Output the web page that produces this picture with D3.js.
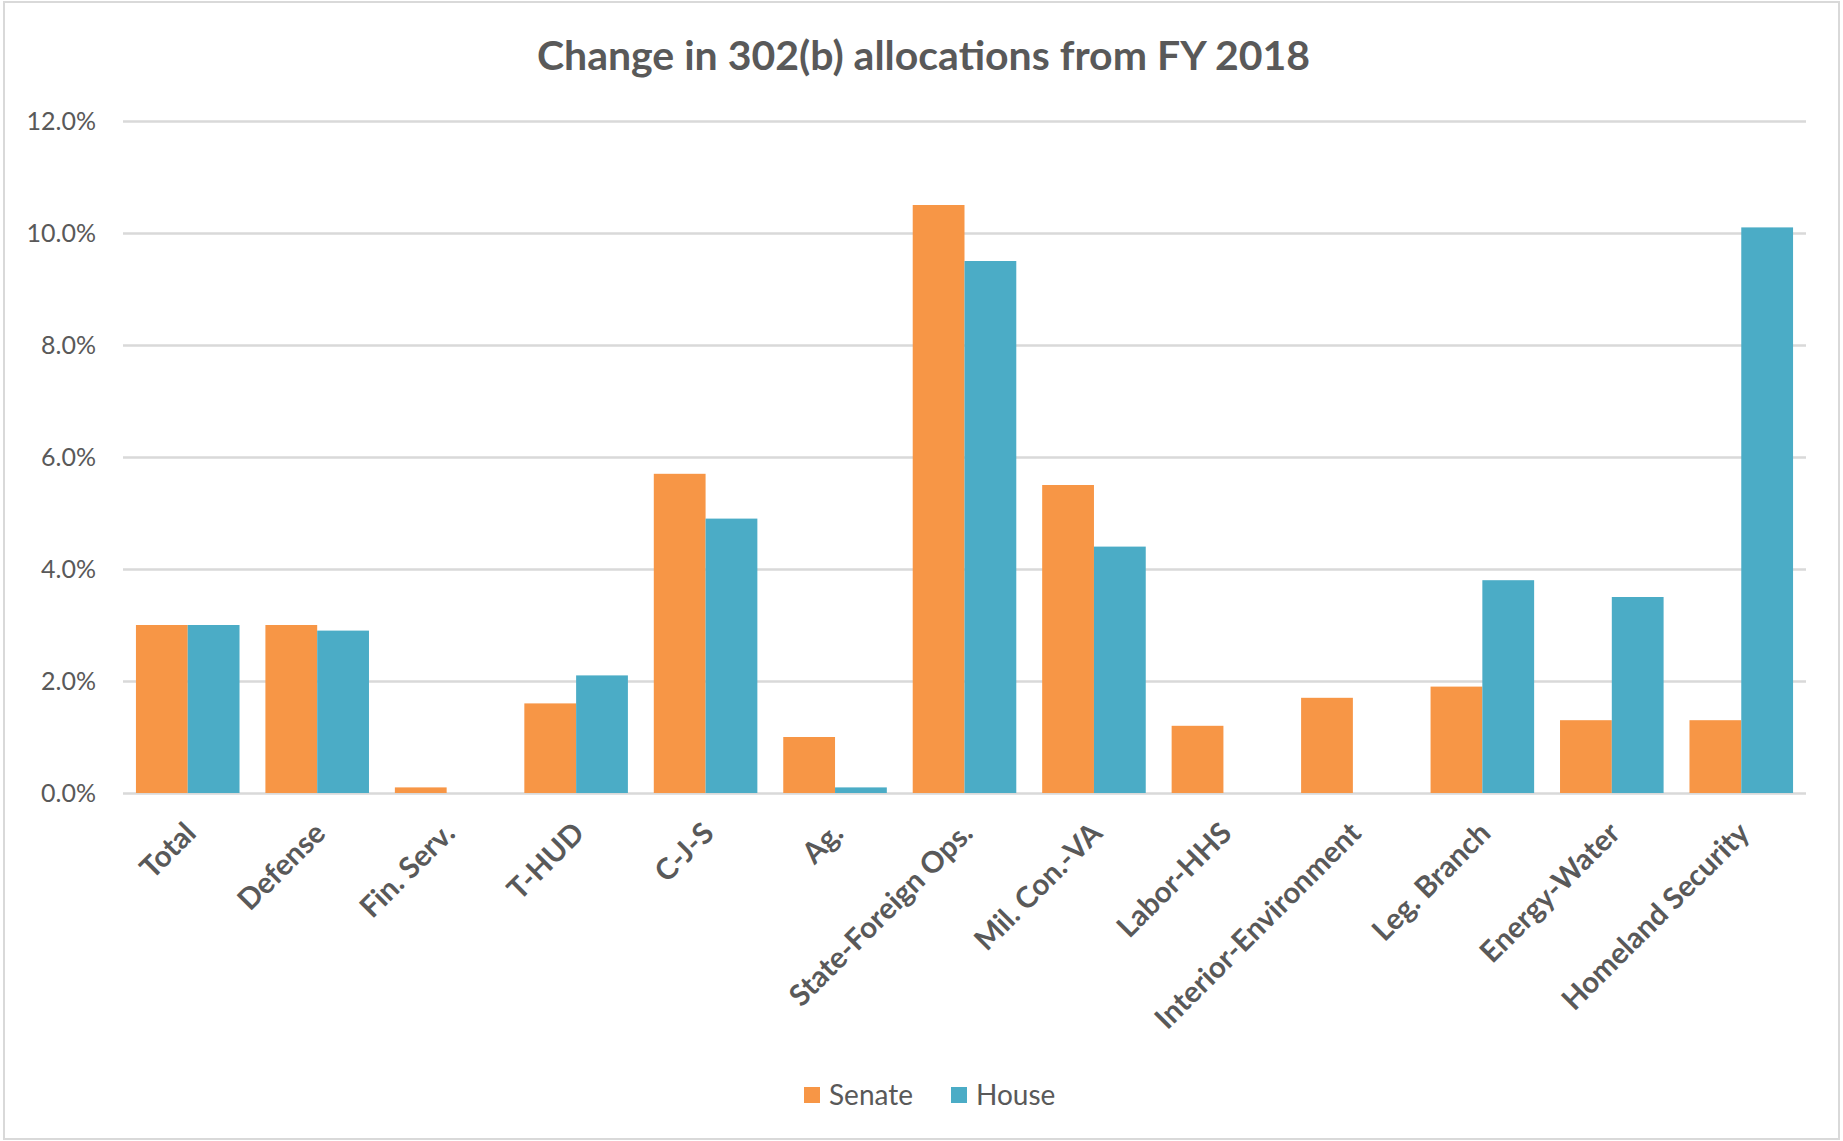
<!DOCTYPE html>
<html>
<head>
<meta charset="utf-8">
<script src="https://cdn.jsdelivr.net/npm/d3@7"></script>
<style>
  body { margin: 0; background: #fff; }
  text { font-family: Lato, "Open Sans", sans-serif; fill: #595959; }
</style>
</head>
<body>
<div id="chart"></div>
<script>
// chart data
const categories = ["Total", "Defense", "Fin. Serv.", "T-HUD", "C-J-S", "Ag.", "State-Foreign Ops.",
  "Mil. Con.-VA", "Labor-HHS", "Interior-Environment", "Leg. Branch", "Energy-Water", "Homeland Security"];
const seriesNames = ["Senate", "House"];
const senate = [0.030, 0.030, 0.001, 0.016, 0.057, 0.010, 0.105, 0.055, 0.012, 0.017, 0.019, 0.013, 0.013];
const house = [0.030, 0.029, 0, 0.021, 0.049, 0.001, 0.095, 0.044, 0, 0, 0.038, 0.035, 0.101];
const yTicks = [0, 0.02, 0.04, 0.06, 0.08, 0.10, 0.12];
const title = "Change in 302(b) allocations from FY 2018";

const W = 1843, H = 1141;
const margin = {left: 123, right: 37, top: 121, bottom: 348};
const colors = {Senate: "#F79646", House: "#4BACC6"};

const svg = d3.select("#chart").append("svg")
  .attr("width", W).attr("height", H);

// outer border
svg.append("rect")
  .attr("x", 4).attr("y", 2).attr("width", W - 8).attr("height", H - 4)
  .attr("fill", "#fff").attr("stroke", "#D9D9D9").attr("stroke-width", 2);

const x = d3.scaleBand().domain(categories)
  .range([margin.left, W - margin.right])
  .paddingInner(0.2).paddingOuter(0.1);
const xs = d3.scaleBand().domain(seriesNames).range([0, x.bandwidth()]);
const y = d3.scaleLinear().domain([0, 0.12]).range([H - margin.bottom, margin.top]);

// title
svg.append("text")
  .attr("x", W / 2 + 2).attr("y", 70)
  .attr("text-anchor", "middle")
  .style("font-size", "41px").style("font-weight", "bold")
  .text(title);

// y axis + gridlines
const yAxis = svg.append("g")
  .attr("transform", `translate(${margin.left},0)`)
  .call(d3.axisLeft(y).tickValues(yTicks).tickFormat(d3.format(".1%"))
    .tickSize(-(W - margin.left - margin.right)).tickPadding(27));
yAxis.select(".domain").remove();
yAxis.selectAll("line").attr("stroke", "#D9D9D9").attr("stroke-width", 2.5);
yAxis.selectAll("text").style("font-size", "25px").attr("fill", "#595959");

// bars
const table = categories.map((c, i) => ({cat: c, Senate: senate[i], House: house[i]}));
const groups = svg.append("g").selectAll("g")
  .data(table).enter().append("g")
  .attr("transform", d => `translate(${x(d.cat)},0)`);
groups.selectAll("rect")
  .data(d => seriesNames.map(s => ({s: s, v: d[s]})))
  .enter().append("rect")
  .attr("x", d => xs(d.s))
  .attr("y", d => y(d.v))
  .attr("width", xs.bandwidth())
  .attr("height", d => y(0) - y(d.v))
  .attr("fill", d => colors[d.s]);

// x axis labels
const xAxis = svg.append("g")
  .attr("transform", `translate(0,${y(0)})`)
  .call(d3.axisBottom(x).tickSize(0).tickPadding(0));
xAxis.select(".domain").remove();
xAxis.selectAll("text")
  .attr("text-anchor", "end")
  .attr("dy", 0)
  .attr("transform", "translate(10,42) rotate(-45)")
  .style("font-size", "29.5px").style("font-weight", "bold")
  .attr("fill", "#595959");

// legend
const legend = svg.append("g").attr("transform", "translate(804,1095)");
const item = legend.selectAll("g").data(seriesNames).enter().append("g")
  .attr("transform", (d, i) => `translate(${i * 147},0)`);
item.append("rect")
  .attr("x", 0).attr("y", -8).attr("width", 16).attr("height", 16)
  .attr("fill", d => colors[d]);
item.append("text")
  .attr("x", 25).attr("y", 9.5)
  .style("font-size", "28px")
  .text(d => d);
</script>
</body>
</html>
